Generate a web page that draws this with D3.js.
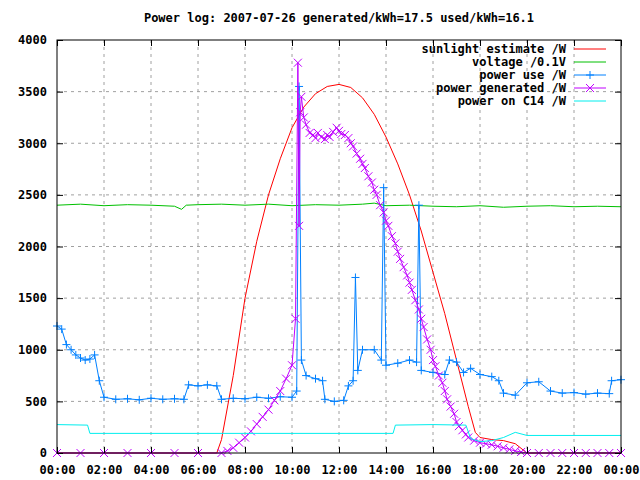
<!DOCTYPE html>
<html><head><meta charset="utf-8">
<script src="https://cdn.jsdelivr.net/npm/d3@7"></script>
<style>body{margin:0;background:#fff}text{font-family:"DejaVu Sans Mono",monospace;font-size:12px;font-weight:bold}</style>
</head><body><svg id="c" width="640" height="480"></svg>
<script>
// hours, value
const sunlight = [[0,0],[6.8,0],[7,130],[7.5,750],[8,1500],[8.5,2050],[9,2500],[9.5,2850],[10,3150],[10.5,3350],[11,3480],[11.5,3550],[12,3570],[12.5,3540],[13,3440],[13.5,3280],[14,3060],[14.5,2800],[15,2500],[15.5,2150],[16,1750],[16.5,1350],[17,900],[17.5,450],[17.8,200],[18,150],[18.5,130],[19,120],[19.5,90],[20,0],[24,0]];
const voltage = [[0,2400],[1,2410],[2,2395],[3,2405],[4,2400],[5,2390],[5.3,2360],[5.5,2400],[6,2405],[7,2410],[8,2400],[9,2410],[10,2395],[11,2405],[12,2400],[13,2410],[13.5,2420],[14,2395],[15,2400],[16,2390],[17,2385],[18,2395],[19,2380],[20,2390],[21,2395],[22,2385],[23,2390],[24,2385]];
const powerUse = [[0,1230],[0.2,1200],[0.4,1050],[0.6,1000],[0.8,950],[1,920],[1.2,900],[1.4,910],[1.6,950],[1.8,700],[2,540],[2.5,520],[3,525],[3.5,515],[4,530],[4.5,520],[5,525],[5.4,520],[5.6,660],[6,650],[6.4,660],[6.8,650],[7,520],[7.5,530],[8,525],[8.5,540],[9,530],[9.5,545],[10,540],[10.2,600],[10.3,3550],[10.4,900],[10.6,750],[11,720],[11.3,700],[11.4,520],[11.8,500],[12.2,510],[12.4,650],[12.6,700],[12.7,1700],[12.8,800],[13,1000],[13.5,1000],[13.8,900],[13.9,2570],[14,850],[14.5,870],[15,900],[15.3,880],[15.4,2400],[15.5,800],[16,780],[16.5,760],[16.7,900],[17,880],[17.3,780],[17.6,820],[18,760],[18.5,740],[18.8,700],[19,580],[19.5,560],[20,680],[20.5,690],[21,600],[21.5,580],[22,585],[22.5,570],[23,580],[23.5,575],[23.6,700],[24,710]];
const powerGen = [[0,0],[1,0],[2,0],[3,0],[4,0],[5,0],[6,0],[7,0],[7.25,20],[7.5,50],[7.75,100],[8,150],[8.25,210],[8.5,280],[8.75,350],[9,420],[9.25,510],[9.5,600],[9.75,720],[10,850],[10.15,1300],[10.25,3780],[10.3,2200],[10.35,3300],[10.4,3450],[10.5,3250],[10.6,3180],[10.75,3100],[10.9,3080],[11,3050],[11.1,3100],[11.25,3060],[11.4,3040],[11.5,3080],[11.6,3060],[11.75,3110],[11.9,3150],[12,3120],[12.1,3090],[12.25,3080],[12.4,3050],[12.5,3000],[12.6,2970],[12.75,2900],[12.9,2850],[13,2800],[13.1,2760],[13.25,2680],[13.4,2620],[13.5,2550],[13.6,2500],[13.75,2400],[13.9,2330],[14,2250],[14.1,2200],[14.25,2100],[14.4,2030],[14.5,1950],[14.6,1880],[14.75,1800],[14.9,1720],[15,1650],[15.1,1580],[15.25,1480],[15.4,1390],[15.5,1300],[15.6,1220],[15.75,1100],[15.9,1000],[16,900],[16.1,840],[16.25,750],[16.4,680],[16.5,600],[16.6,520],[16.75,450],[16.9,380],[17,300],[17.1,260],[17.25,220],[17.4,180],[17.5,150],[17.75,120],[18,100],[18.25,90],[18.5,80],[18.75,65],[19,50],[19.25,35],[19.5,20],[19.75,10],[20,0],[20.5,0],[21,0],[21.5,0],[22,0],[22.5,0],[23,0],[23.5,0],[24,0]];
const powerC14 = [[0,275],[1.3,270],[1.4,190],[4,190],[6,190],[8,190],[10,190],[12,190],[14.3,190],[14.4,270],[16,275],[17.4,270],[17.6,140],[18,110],[18.5,120],[19,150],[19.5,200],[20,170],[22,170],[24,170]];
const xTicks = [0,2,4,6,8,10,12,14,16,18,20,22,24];
const xTickLabels = ["00:00","02:00","04:00","06:00","08:00","10:00","12:00","14:00","16:00","18:00","20:00","22:00","00:00"];
const yTicks = [0,500,1000,1500,2000,2500,3000,3500,4000];

const L=57,R=621,T=40,B=453;
const svg=d3.select("#c");
const x=d3.scaleLinear().domain([0,24]).range([L,R]);
const y=d3.scaleLinear().domain([0,4000]).range([B,T]);

// grid
svg.selectAll(".gx").data(xTicks.slice(1,-1)).join("line").attr("x1",d=>x(d)).attr("x2",d=>x(d)).attr("y1",T).attr("y2",B).attr("stroke","#a0a0a0").attr("stroke-dasharray","3,4");
svg.selectAll(".gy").data(yTicks.slice(1,-1)).join("line").attr("x1",L).attr("x2",R).attr("y1",d=>y(d)).attr("y2",d=>y(d)).attr("stroke","#a0a0a0").attr("stroke-dasharray","3,4");

const line=d3.line().x(d=>x(d[0])).y(d=>y(d[1]));
function draw(data,color){svg.append("path").datum(data).attr("d",line).attr("fill","none").attr("stroke",color).attr("stroke-width",1);}
draw(sunlight,"#ff0000");
draw(voltage,"#00c000");
draw(powerUse,"#0080ff");
svg.selectAll(".pu").data(powerUse).join("path").attr("d",d=>`M${x(d[0])-4},${y(d[1])}h8M${x(d[0])},${y(d[1])-4}v8`).attr("stroke","#0080ff");
draw(powerGen,"#c000ff");
svg.selectAll(".pg").data(powerGen).join("path").attr("d",d=>`M${x(d[0])-4},${y(d[1])-4}l8,8M${x(d[0])-4},${y(d[1])+4}l8,-8`).attr("stroke","#c000ff");
draw(powerC14,"#00eeee");

// border & axes
svg.append("rect").attr("x",L).attr("y",T).attr("width",R-L).attr("height",B-T).attr("fill","none").attr("stroke","#000");
svg.append("g").attr("transform",`translate(0,${B})`).call(d3.axisBottom(x).tickValues(xTicks).tickFormat((d,i)=>xTickLabels[i]).tickSize(-6).tickPadding(12)).call(g=>{g.select(".domain").remove();g.selectAll("text").attr("font-family",null).attr("font-size",null)});
svg.append("g").attr("transform",`translate(${L},0)`).call(d3.axisLeft(y).tickValues(yTicks).tickFormat(d3.format("d")).tickSize(-6).tickPadding(10)).call(g=>{g.select(".domain").remove();g.selectAll("text").attr("font-family",null).attr("font-size",null)});
svg.append("g").attr("transform",`translate(${R},0)`).call(d3.axisRight(y).tickValues(yTicks).tickSize(-6).tickFormat("")).select(".domain").remove();
svg.append("g").attr("transform",`translate(0,${T})`).call(d3.axisTop(x).tickValues(xTicks).tickSize(-6).tickFormat("")).select(".domain").remove();

svg.append("text").attr("x",339).attr("y",22).attr("text-anchor","middle").text("Power log: 2007-07-26 generated/kWh=17.5 used/kWh=16.1");

// legend
const leg=[["sunlight estimate /W","#ff0000",""],["voltage /0.1V","#00c000",""],["power use /W","#0080ff","+"],["power generated /W","#c000ff","x"],["power on C14 /W","#00eeee",""]];
leg.forEach((d,i)=>{const yy=49+i*13;
 svg.append("text").attr("x",566).attr("y",yy+4).attr("text-anchor","end").text(d[0]);
 svg.append("line").attr("x1",574).attr("x2",606).attr("y1",yy).attr("y2",yy).attr("stroke",d[1]);
 if(d[2]=="+")svg.append("path").attr("d",`M586,${yy}h8M590,${yy-4}v8`).attr("stroke",d[1]);
 if(d[2]=="x")svg.append("path").attr("d",`M586,${yy-4}l8,8M586,${yy+4}l8,-8`).attr("stroke",d[1]);
});
</script></body></html>
